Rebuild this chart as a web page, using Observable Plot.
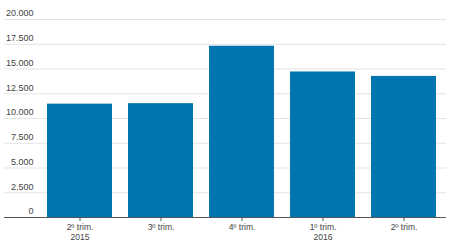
<!DOCTYPE html>
<html>
<head>
<meta charset="utf-8">
<script src="https://cdn.jsdelivr.net/npm/d3@7"></script>
<script src="https://cdn.jsdelivr.net/npm/@observablehq/plot@0.6"></script>
<style>
  html, body { margin: 0; padding: 0; background: #fff; }
  #chart svg { display: block; }
</style>
</head>
<body>
<div id="chart"></div>
<script>
const keys = ["q2-2015", "q3-2015", "q4-2015", "q1-2016", "q2-2016"];
const quarterLabels = ["2º trim.", "3º trim.", "4º trim.", "1º trim.", "2º trim."];
const yearLabels = ["2015", "", "", "2016", ""];
const values = [11450, 11500, 17300, 14700, 14250];
const yTicks = [0, 2500, 5000, 7500, 10000, 12500, 15000, 17500, 20000];

const data = keys.map((k, i) => ({key: k, value: values[i]}));
const labelOf = Object.fromEntries(keys.map((k, i) => [k, yearLabels[i] ? quarterLabels[i] + "\n" + yearLabels[i] : quarterLabels[i]]));
const fmt = d3.formatLocale({decimal: ",", thousands: ".", grouping: [3], currency: ["", ""]}).format(",");

const chart = Plot.plot({
  width: 450,
  height: 242,
  marginLeft: 4,
  marginRight: 4,
  marginTop: 19,
  marginBottom: 25,
  style: {fontFamily: "'Liberation Sans', Arial, sans-serif", background: "#fff"},
  x: {domain: keys, range: [38, 445], paddingInner: 0.2, paddingOuter: 0.1, label: null},
  y: {domain: [0, 20000], label: null, axis: null},
  marks: [
    Plot.ruleY(yTicks.slice(1), {stroke: "#e4e4e4", strokeWidth: 1}),
    Plot.barY(data, {x: "key", y: "value", fill: "#0075b0"}),
    Plot.ruleY([0], {stroke: "#555", strokeWidth: 1}),
    Plot.text(yTicks, {y: d => d, text: d => fmt(d), frameAnchor: "left", textAnchor: "end", dx: 29, dy: -6, fill: "#444", fontSize: 9}),
    Plot.axisX({tickFormat: d => labelOf[d], tickSize: 4, tickPadding: 2, stroke: "#555", fill: "#444", fontSize: 8.5, lineHeight: 1.15})
  ]
});
document.getElementById("chart").appendChild(chart);
</script>
</body>
</html>
